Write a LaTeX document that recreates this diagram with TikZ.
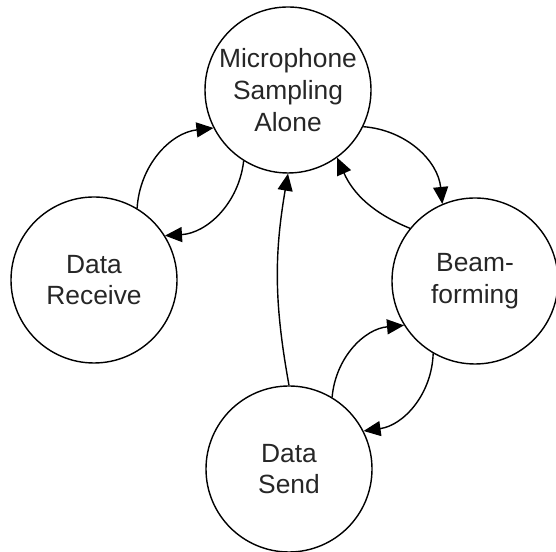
\documentclass[tikz,border=0pt]{standalone}
\usepackage{fontspec}
\setmainfont{Liberation Sans}
\usetikzlibrary{arrows.meta}

\begin{document}
\begin{tikzpicture}[every node/.style={circle, draw, line width=0.8pt, minimum size=3.32cm, inner sep=0pt, align=center, font=\fontsize{15}{18}\selectfont, text=black!85}, >={Triangle[length=3.4mm, width=3mm]}, ->, line width=0.8pt]
		\tikzstyle{link} = [bend left=40]
		\tikzstyle{longlink} = [bend left=10]
		
		\useasboundingbox (0,0) rectangle (11.12,11.04);
		
		\node (sampling) at (5.76,9.24) {Microphone\\Sampling\\Alone};
		\node (receive) at (1.88,5.44) {Data\\Receive};
		\node (beam) at (9.50,5.42) {Beam-\\forming};
		\node (send) at (5.78,1.66) {Data\\Send};
		
		\draw (receive.59) to[link] (sampling.207);
		\draw (sampling.238) to[link] (receive.32);
		\draw (send.90) to[longlink] (sampling.270);
		\draw (sampling.334) to[link] (beam.113);
		\draw (beam.141) to[bend left=22] (sampling.306);
		\draw (send.59) to[link] (beam.212);
		\draw (beam.240) to[link] (send.27);
	\end{tikzpicture}
\end{document}
